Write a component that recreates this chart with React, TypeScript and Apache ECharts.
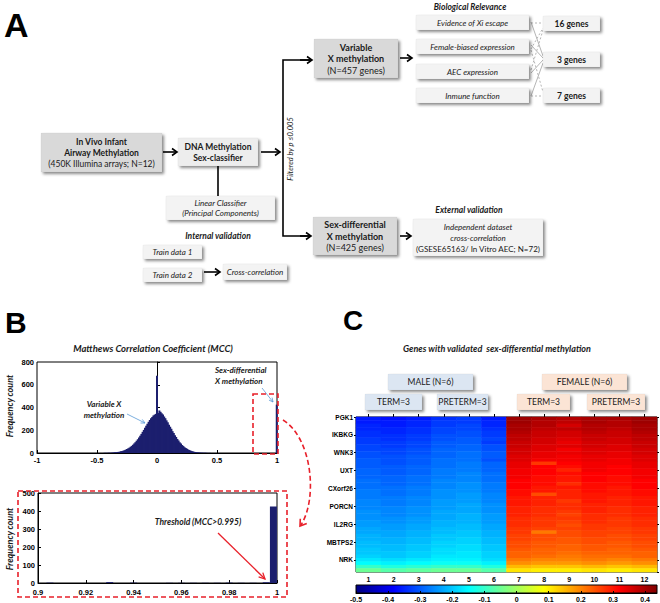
import React, { useEffect, useRef } from 'react';
import * as echarts from 'echarts';

// ---------- DATA ----------
// Panel B top: MCC histogram, bins of 0.01 starting at -0.45
const mccStart = -0.45;
const mccStep = 0.01;
const mccCounts = [
  1, 1, 2, 1, 2, 3, 2, 3, 4, 5,
  6, 7, 9, 10, 12, 15, 17, 21, 25, 30,
  35, 41, 47, 55, 63, 73, 84, 95, 108, 121,
  137, 152, 168, 186, 203, 222, 240, 257, 274, 290,
  305, 317, 330, 337, 344,
  680,
  352, 374, 362, 349, 338, 321, 306, 287, 270, 249,
  231, 213, 192, 176, 156, 141, 123, 110, 94, 83,
  70, 61, 51, 44, 37, 31, 26, 21, 17, 14,
  11, 9, 7, 6, 5, 4, 3, 3, 2, 2,
  2, 1, 1, 1, 1,
];
const sexDiffBin = 0.998;
const sexDiffCount = 425;

// Panel B bottom: zoom 0.9 - 1
const zoomBins = [0.905, 0.93, 0.94, 0.955, 0.96, 0.965, 0.97, 0.975, 0.98, 0.985, 0.99, 0.9955, 0.9985];
const zoomCounts = [2, 5, 2, 1, 1, 1, 1, 1, 2, 1, 1, 4, 425];

// Panel C heatmap
const heatColumns = ['1', '2', '3', '4', '5', '6', '7', '8', '9', '10', '11', '12'];
const geneLabels = ['PGK1', 'IKBKG', 'WNK3', 'UXT', 'CXorf26', 'PORCN', 'IL2RG', 'MBTPS2', 'NRK'];
const geneCount = 425;
const geneTickStep = 49;
const colorMin = -0.5;
const colorMax = 0.437;
const heatRows = [
  [-0.36, -0.37, -0.36, -0.34, -0.33, -0.36, 0.41, 0.40, 0.39, 0.40, 0.40, 0.41],
  [-0.36, -0.36, -0.35, -0.33, -0.33, -0.35, 0.41, 0.39, 0.38, 0.40, 0.39, 0.41],
  [-0.35, -0.36, -0.35, -0.33, -0.32, -0.35, 0.40, 0.39, 0.36, 0.39, 0.39, 0.40],
  [-0.35, -0.35, -0.34, -0.32, -0.32, -0.34, 0.40, 0.38, 0.38, 0.39, 0.38, 0.40],
  [-0.34, -0.35, -0.34, -0.32, -0.31, -0.33, 0.39, 0.37, 0.36, 0.38, 0.37, 0.39],
  [-0.34, -0.34, -0.33, -0.31, -0.31, -0.33, 0.38, 0.37, 0.36, 0.37, 0.37, 0.38],
  [-0.33, -0.34, -0.33, -0.31, -0.30, -0.32, 0.38, 0.36, 0.35, 0.37, 0.36, 0.38],
  [-0.33, -0.33, -0.32, -0.30, -0.30, -0.33, 0.37, 0.36, 0.34, 0.36, 0.36, 0.37],
  [-0.32, -0.33, -0.32, -0.30, -0.29, -0.31, 0.37, 0.35, 0.35, 0.36, 0.35, 0.37],
  [-0.32, -0.32, -0.31, -0.29, -0.29, -0.31, 0.36, 0.35, 0.33, 0.35, 0.35, 0.36],
  [-0.31, -0.32, -0.31, -0.29, -0.28, -0.30, 0.36, 0.34, 0.34, 0.35, 0.34, 0.36],
  [-0.31, -0.31, -0.30, -0.29, -0.28, -0.30, 0.35, 0.34, 0.33, 0.34, 0.34, 0.35],
  [-0.30, -0.31, -0.30, -0.28, -0.28, -0.31, 0.35, 0.33, 0.33, 0.34, 0.33, 0.35],
  [-0.30, -0.31, -0.30, -0.28, -0.27, -0.29, 0.34, 0.27, 0.32, 0.33, 0.33, 0.34],
  [-0.30, -0.30, -0.29, -0.28, -0.27, -0.29, 0.34, 0.32, 0.31, 0.33, 0.32, 0.34],
  [-0.29, -0.30, -0.29, -0.27, -0.27, -0.29, 0.33, 0.32, 0.29, 0.33, 0.32, 0.33],
  [-0.29, -0.30, -0.29, -0.27, -0.26, -0.28, 0.33, 0.32, 0.31, 0.32, 0.32, 0.33],
  [-0.29, -0.29, -0.28, -0.27, -0.26, -0.28, 0.33, 0.31, 0.30, 0.32, 0.31, 0.33],
  [-0.28, -0.29, -0.28, -0.26, -0.26, -0.28, 0.32, 0.31, 0.30, 0.32, 0.31, 0.32],
  [-0.28, -0.29, -0.28, -0.26, -0.25, -0.27, 0.32, 0.31, 0.28, 0.31, 0.31, 0.32],
  [-0.28, -0.28, -0.27, -0.26, -0.25, -0.27, 0.32, 0.30, 0.30, 0.31, 0.30, 0.32],
  [-0.27, -0.28, -0.27, -0.25, -0.25, -0.27, 0.31, 0.30, 0.29, 0.31, 0.30, 0.31],
  [-0.27, -0.28, -0.27, -0.25, -0.24, -0.26, 0.31, 0.25, 0.29, 0.30, 0.30, 0.31],
  [-0.27, -0.27, -0.26, -0.25, -0.24, -0.26, 0.30, 0.29, 0.29, 0.30, 0.29, 0.30],
  [-0.26, -0.27, -0.26, -0.24, -0.24, -0.26, 0.30, 0.29, 0.27, 0.30, 0.29, 0.30],
  [-0.26, -0.27, -0.26, -0.24, -0.23, -0.25, 0.30, 0.29, 0.28, 0.29, 0.29, 0.30],
  [-0.26, -0.26, -0.25, -0.24, -0.23, -0.25, 0.29, 0.28, 0.28, 0.29, 0.28, 0.29],
  [-0.25, -0.26, -0.25, -0.23, -0.23, -0.25, 0.29, 0.28, 0.27, 0.29, 0.28, 0.29],
  [-0.25, -0.26, -0.25, -0.23, -0.22, -0.24, 0.29, 0.28, 0.26, 0.28, 0.28, 0.29],
  [-0.25, -0.25, -0.24, -0.23, -0.22, -0.24, 0.28, 0.27, 0.27, 0.28, 0.27, 0.28],
  [-0.24, -0.25, -0.24, -0.22, -0.22, -0.24, 0.28, 0.27, 0.26, 0.28, 0.27, 0.28],
  [-0.24, -0.24, -0.23, -0.22, -0.21, -0.23, 0.28, 0.27, 0.25, 0.27, 0.27, 0.28],
  [-0.23, -0.24, -0.23, -0.21, -0.21, -0.23, 0.27, 0.26, 0.26, 0.27, 0.26, 0.27],
  [-0.23, -0.23, -0.22, -0.21, -0.20, -0.22, 0.27, 0.21, 0.25, 0.26, 0.26, 0.27],
  [-0.22, -0.23, -0.22, -0.20, -0.20, -0.22, 0.26, 0.25, 0.25, 0.26, 0.25, 0.26],
  [-0.22, -0.22, -0.21, -0.20, -0.19, -0.21, 0.26, 0.25, 0.24, 0.25, 0.25, 0.26],
  [-0.21, -0.22, -0.21, -0.19, -0.19, -0.21, 0.25, 0.24, 0.24, 0.25, 0.24, 0.25],
  [-0.21, -0.21, -0.20, -0.19, -0.18, -0.20, 0.25, 0.24, 0.23, 0.24, 0.24, 0.25],
  [-0.20, -0.21, -0.20, -0.18, -0.18, -0.20, 0.24, 0.23, 0.23, 0.24, 0.23, 0.24],
  [-0.20, -0.20, -0.19, -0.18, -0.17, -0.19, 0.23, 0.23, 0.22, 0.23, 0.23, 0.23],
  [-0.19, -0.20, -0.19, -0.17, -0.17, -0.19, 0.23, 0.22, 0.21, 0.22, 0.22, 0.23],
  [-0.17, -0.18, -0.17, -0.16, -0.16, -0.18, 0.21, 0.20, 0.20, 0.21, 0.20, 0.21],
  [-0.15, -0.16, -0.15, -0.14, -0.14, -0.16, 0.19, 0.18, 0.18, 0.19, 0.18, 0.19],
  [-0.10, -0.12, -0.11, -0.10, -0.10, -0.12, 0.15, 0.14, 0.14, 0.15, 0.14, 0.15],
  [-0.05, -0.07, -0.06, -0.05, -0.05, -0.07, 0.11, 0.10, 0.10, 0.11, 0.10, 0.11],
];

// ---------- STYLE HELPERS ----------
const FA = 'Lato, "Open Sans", sans-serif';
const FB = '"Liberation Sans", Arial, sans-serif';
const NAVY = '#1c1f6e';
const JET = ['#000080', '#0000ff', '#0080ff', '#00ffff', '#80ff80', '#ffff00', '#ff8000', '#ff0000', '#800000'];
const TXT = '#1a1a1a';

function richStyles(fs: number, lh: number) {
  return {
    b: { fontFamily: FA, fontSize: fs, fontWeight: 'bold', lineHeight: lh, fill: TXT },
    n: { fontFamily: FA, fontSize: fs, lineHeight: lh, fill: TXT },
    i: { fontFamily: FA, fontSize: fs, fontStyle: 'italic', lineHeight: lh, fill: TXT },
    bi: { fontFamily: FA, fontSize: fs, fontStyle: 'italic', fontWeight: 'bold', lineHeight: lh, fill: TXT },
  };
}

function box(x: number, y: number, w: number, h: number, fill: string, text: string, fs = 8.5, lh = 11) {
  return [
    {
      type: 'rect', z: 10,
      shape: { x, y, width: w, height: h },
      style: { fill, stroke: 'rgba(0,0,0,0.06)', lineWidth: 0.5, shadowBlur: 3, shadowOffsetX: 2, shadowOffsetY: 2, shadowColor: 'rgba(0,0,0,0.45)' },
    },
    {
      type: 'text', z: 11, x: x + w / 2, y: y + h / 2,
      style: { text, rich: richStyles(fs, lh), align: 'center', verticalAlign: 'middle', fontFamily: FA, fontSize: fs, fill: TXT },
    },
  ];
}

function label(x: number, y: number, text: string, opts: any = {}) {
  return {
    type: 'text', z: 12, x, y, rotation: opts.rotation || 0,
    style: {
      text, fontFamily: opts.font || FA, fontSize: opts.size || 8.5,
      fontWeight: opts.weight || 'normal', fontStyle: opts.style || 'normal',
      fill: opts.color || TXT, align: opts.align || 'center', verticalAlign: opts.valign || 'middle',
      lineHeight: opts.lh || 11,
    },
  };
}

function arrow(x1: number, y1: number, x2: number, y2: number, color = '#000', lw = 1.6, L = 5, W = 3.5, dash: any = null) {
  const a = Math.atan2(y2 - y1, x2 - x1);
  const p1 = [x2 - L * Math.cos(a) + W * Math.sin(a), y2 - L * Math.sin(a) - W * Math.cos(a)];
  const p2 = [x2 - L * Math.cos(a) - W * Math.sin(a), y2 - L * Math.sin(a) + W * Math.cos(a)];
  return [
    { type: 'line', z: 12, shape: { x1, y1, x2, y2 }, style: { stroke: color, lineWidth: lw, lineDash: dash } },
    { type: 'polyline', z: 12, shape: { points: [p1, [x2, y2], p2] }, style: { stroke: color, lineWidth: lw, fill: 'none' } },
  ];
}

function seg(x1: number, y1: number, x2: number, y2: number, color: string, lw: number, dash: any = null) {
  return { type: 'line', z: 9, shape: { x1, y1, x2, y2 }, style: { stroke: color, lineWidth: lw, lineDash: dash } };
}

const axisLbl = { fontFamily: FB, fontWeight: 'bold', fontSize: 7.5, color: '#000' };
const blackLine = { show: true, lineStyle: { color: '#000', width: 1 } };

function buildOption() {
  const mccData = mccCounts.map((c, i) => [mccStart + i * mccStep, c]);
  mccData.push([sexDiffBin, sexDiffCount]);
  const zoomData = zoomBins.map((b, i) => [b, zoomCounts[i]]);
  const heatData: any[] = [];
  heatRows.forEach((row, r) => row.forEach((v, c) => heatData.push([c, r, v])));

  const els: any[] = [];
  // ---------- Panel A ----------
  els.push(label(4, 25, 'A', { font: FB, size: 34, weight: 'bold', align: 'left', color: '#000' }));
  els.push(...box(41, 133, 121, 39, '#d9d9d9', '{b|In Vivo Infant}\n{b|Airway Methylation}\n{n|(450K Illumina arrays; N=12)}', 8.5, 11));
  els.push(...box(178, 138, 80, 28, '#ededed', '{b|DNA Methylation}\n{b|Sex-classifier}', 8.5, 11));
  els.push(...box(166, 196, 109, 24, '#f3f3f3', '{i|Linear Classifier}\n{i|(Principal Components)}', 8, 10.5));
  els.push(label(218, 236, 'Internal validation', { weight: 'bold', style: 'italic', size: 8.5 }));
  els.push(...box(143, 245, 59, 14, '#f3f3f3', '{i|Train data 1}', 8));
  els.push(...box(143, 268, 59, 14, '#f3f3f3', '{i|Train data 2}', 8));
  els.push(...box(223, 264, 64, 16, '#f3f3f3', '{i|Cross-correlation}', 8));
  els.push(...arrow(204, 272, 220, 272));
  els.push(seg(218, 166, 218, 196, '#000', 1.6));
  els.push(...arrow(163, 152, 177, 152));
  els.push(...arrow(261, 152, 280, 152));
  els.push({ type: 'polyline', z: 12, shape: { points: [[312, 60], [283, 60], [283, 236], [311, 236]] }, style: { stroke: '#000', lineWidth: 1.6, fill: 'none' } });
  els.push(...arrow(300, 60, 312, 60));
  els.push(...arrow(300, 236, 311, 236));
  els.push(label(290, 149, 'Filtered by p \u22640.005', { rotation: Math.PI / 2, style: 'italic', size: 7.5 }));
  els.push(...box(314, 39, 84, 39, '#d9d9d9', '{b|Variable}\n{b|X methylation}\n{n|(N=457 genes)}', 9, 11.5));
  els.push(...box(313, 217, 84, 38, '#d9d9d9', '{b|Sex-differential}\n{b|X methylation}\n{n|(N=425 genes)}', 9, 11.5));
  els.push(...arrow(400, 58, 412, 58));
  els.push(...arrow(400, 236, 411, 236));
  els.push(label(469, 210, 'External validation', { weight: 'bold', style: 'italic', size: 8.5 }));
  els.push(...box(413, 219, 130, 37, '#f3f3f3', '{i|Independent dataset}\n{i|cross-correlation}\n{n|(GSESE65163/ In Vitro AEC; N=72)}', 8, 11));
  els.push(label(470, 7, 'Biological Relevance', { weight: 'bold', style: 'italic', size: 8.5 }));
  const bioY = [15, 39, 64, 88];
  const bioT = ['Evidence of Xi escape', 'Female-biased expression', 'AEC expression', 'Inmune function'];
  bioY.forEach((y, i) => els.push(...box(416, y, 113, 15, '#f3f3f3', '{i|' + bioT[i] + '}', 8)));
  const genY = [16, 52, 88];
  const genT = ['16 genes', '3 genes', '7 genes'];
  genY.forEach((y, i) => els.push(...box(543, y, 57, 15, '#f3f3f3', '{b|' + genT[i] + '}', 8.5)));
  const G = '#b5b5b5';
  els.push(seg(531, 22, 543, 56, G, 1));
  els.push(seg(531, 45, 543, 58, G, 1));
  els.push(seg(531, 73, 543, 60, G, 1));
  els.push(seg(531, 96, 543, 63, G, 1));
  els.push(seg(531, 23, 543, 23, G, 1, [2, 2]));
  els.push(seg(531, 49, 543, 28, G, 1, [2, 2]));
  els.push(seg(531, 70, 543, 30, G, 1, [2, 2]));
  els.push(seg(531, 50, 543, 92, G, 1, [2, 2]));
  els.push(seg(531, 96, 543, 96, G, 1, [2, 2]));

  // ---------- Panel B ----------
  els.push(label(5, 322, 'B', { font: FB, size: 30, weight: 'bold', align: 'left', color: '#000' }));
  els.push(label(153, 348, 'Matthews Correlation Coefficient (MCC)', { weight: 'bold', style: 'italic', size: 9.5 }));
  els.push(label(9, 406, 'Frequency count', { rotation: Math.PI / 2, weight: 'bold', style: 'italic', size: 9 }));
  els.push(label(9, 539, 'Frequency count', { rotation: Math.PI / 2, weight: 'bold', style: 'italic', size: 9 }));
  els.push(label(104, 409, 'Variable X\nmethylation', { weight: 'bold', style: 'italic', size: 8, lh: 11 }));
  els.push(...arrow(127, 414, 145, 423, '#5b9bd5', 0.8, 4, 2));
  els.push(label(215, 375, 'Sex-differential\nX methylation', { weight: 'bold', style: 'italic', size: 8, lh: 11, align: 'left' }));
  els.push(...arrow(262, 388, 273, 402, '#5b9bd5', 0.8, 4, 2));
  els.push({ type: 'rect', z: 13, shape: { x: 253, y: 394, width: 25, height: 60 }, style: { fill: 'none', stroke: '#e8202a', lineWidth: 1.6, lineDash: [5, 3] } });
  els.push({ type: 'rect', z: 13, shape: { x: 18, y: 491, width: 269, height: 106 }, style: { fill: 'none', stroke: '#e8202a', lineWidth: 1.6, lineDash: [5, 3] } });
  els.push({ type: 'bezierCurve', z: 13, shape: { x1: 283, y1: 420, cpx1: 312, cpy1: 438, cpx2: 318, cpy2: 498, x2: 301, y2: 525 }, style: { stroke: '#e8202a', lineWidth: 1.6, lineDash: [5, 3], fill: 'none' } });
  els.push(...arrow(308, 515, 300, 526, '#e8202a', 1.6, 6, 4).slice(1));
  els.push(label(198, 522, 'Threshold (MCC>0.995)', { weight: 'bold', style: 'italic', size: 8.5 }));
  els.push(...arrow(218, 533, 265, 579, '#e8202a', 1.3, 6, 3));

  // ---------- Panel C ----------
  els.push(label(343, 320, 'C', { font: FB, size: 28, weight: 'bold', align: 'left', color: '#000' }));
  els.push(label(497, 348, 'Genes with validated  sex-differential methylation', { weight: 'bold', style: 'italic', size: 9 }));
  const BL = '#dce6f2', PE = '#fbe4d5';
  els.push(...box(388, 374, 85, 16, BL, '{n|MALE (N=6)}', 8.5));
  els.push(...box(542, 374, 85, 16, PE, '{n|FEMALE (N=6)}', 8.5));
  els.push(...box(365, 394, 57, 16, BL, '{n|TERM=3}', 8.5));
  els.push(...box(437, 394, 51, 16, BL, '{n|PRETERM=3}', 8.5));
  els.push(...box(517, 394, 53, 16, PE, '{n|TERM=3}', 8.5));
  els.push(...box(587, 394, 58, 16, PE, '{n|PRETERM=3}', 8.5));

  const tickIn = (len = 3) => ({ show: true, inside: true, length: len, lineStyle: { color: '#000', width: 1 } });

  return {
    animation: false,
    backgroundColor: '#fff',
    grid: [
      { left: 37, top: 362, width: 240, height: 91, show: true, borderColor: '#000', borderWidth: 1, backgroundColor: '#fff' },
      { left: 38, top: 493, width: 239, height: 90, show: true, borderColor: '#000', borderWidth: 1, backgroundColor: '#fff' },
      { left: 356, top: 417, width: 301, height: 155, show: true, borderColor: '#000', borderWidth: 1, backgroundColor: '#fff' },
      {
        left: 356, top: 585, width: 301, height: 8, show: true, borderColor: '#000', borderWidth: 1,
        backgroundColor: new echarts.graphic.LinearGradient(0, 0, 1, 0, JET.map((c, i) => ({ offset: i / (JET.length - 1), color: c }))),
      },
    ],
    xAxis: [
      { gridIndex: 0, type: 'value', min: -1, max: 1, interval: 0.5, axisLine: blackLine, axisTick: tickIn(), splitLine: { show: false }, axisLabel: { ...axisLbl, margin: 3 } },
      {
        gridIndex: 1, type: 'value', min: 0.9, max: 1, interval: 0.02, axisLine: blackLine, axisTick: tickIn(), splitLine: { show: false },
        axisLabel: { ...axisLbl, margin: 5, formatter: (v: number) => String(parseFloat(v.toFixed(2))) },
      },
      { gridIndex: 2, type: 'category', data: heatColumns, axisLine: blackLine, axisTick: { ...tickIn(), alignWithLabel: true }, axisLabel: { ...axisLbl, fontSize: 7, margin: 4 }, splitLine: { show: false } },
      {
        gridIndex: 3, type: 'value', min: colorMin, max: colorMax, interval: 0.1, axisLine: blackLine, axisTick: tickIn(2), splitLine: { show: false },
        axisLabel: { ...axisLbl, fontSize: 7, margin: 3, showMaxLabel: false, formatter: (v: number) => String(Math.round(v * 10) / 10) },
      },
    ],
    yAxis: [
      { gridIndex: 0, type: 'value', min: 0, max: 800, interval: 200, axisLine: blackLine, axisTick: tickIn(), splitLine: { show: false }, axisLabel: { ...axisLbl, margin: 3 } },
      { gridIndex: 1, type: 'value', min: 0, max: 500, interval: 100, axisLine: blackLine, axisTick: tickIn(), splitLine: { show: false }, axisLabel: { ...axisLbl, margin: 3 } },
      { gridIndex: 2, type: 'category', data: heatRows.map((_, i) => String(i)), inverse: true, show: false },
      {
        gridIndex: 2, type: 'value', min: 0, max: geneCount, interval: geneTickStep, inverse: true, position: 'left',
        axisLine: { show: false }, axisTick: { show: true, inside: false, length: 2, lineStyle: { color: '#000' } }, splitLine: { show: false },
        axisLabel: { ...axisLbl, fontSize: 6.5, margin: 3, showMaxLabel: false, formatter: (v: number) => geneLabels[Math.round(v / geneTickStep)] || '' },
      },
      {
        gridIndex: 2, type: 'value', min: 0, max: geneCount, interval: geneTickStep, inverse: true, position: 'right',
        axisLine: { show: false }, axisTick: { show: true, inside: false, length: 2, lineStyle: { color: '#000' } }, splitLine: { show: false }, axisLabel: { show: false },
      },
      { gridIndex: 3, type: 'value', min: 0, max: 1, show: false },
    ],
    visualMap: [
      { type: 'continuous', show: false, min: colorMin, max: colorMax, seriesIndex: 2, dimension: 2, inRange: { color: JET } },
    ],
    series: [
      { type: 'bar', xAxisIndex: 0, yAxisIndex: 0, data: mccData, barWidth: 2, itemStyle: { color: NAVY }, silent: true },
      { type: 'bar', xAxisIndex: 1, yAxisIndex: 1, data: zoomData, barWidth: 7, itemStyle: { color: NAVY }, silent: true },
      { type: 'heatmap', xAxisIndex: 2, yAxisIndex: 2, data: heatData, silent: true, progressive: 0 },
    ],
    graphic: { elements: els },
  };
}

export default function App() {
  const ref = useRef<HTMLDivElement>(null);
  useEffect(() => {
    if (!ref.current) return;
    const chart = echarts.init(ref.current, undefined, { renderer: 'svg' });
    chart.setOption(buildOption() as any);
    return () => chart.dispose();
  }, []);
  return <div ref={ref} style={{ position: 'fixed', left: 0, top: 0, width: 660, height: 603 }} />;
}
